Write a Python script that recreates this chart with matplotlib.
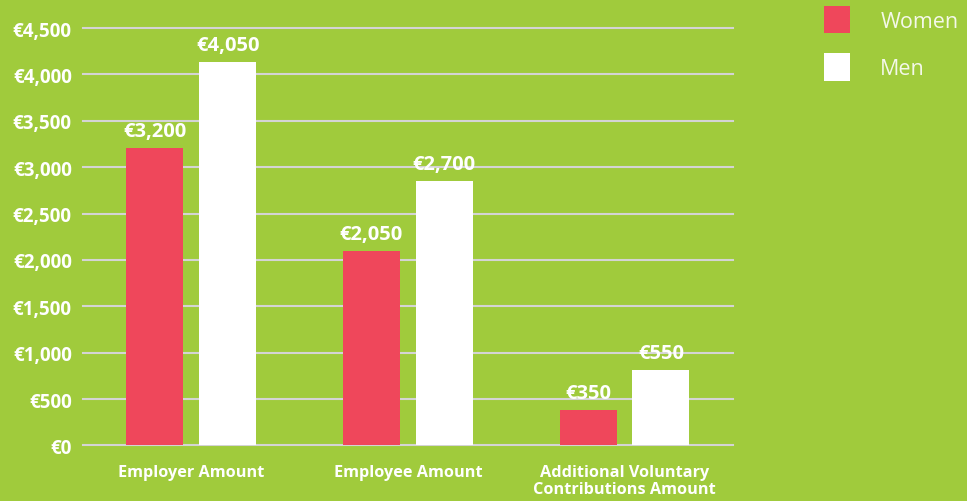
import matplotlib.pyplot as plt
import numpy as np

categories = ["Employer Amount", "Employee Amount", "Additional Voluntary\nContributions Amount"]
women = [3210, 2095, 380]
men = [4135, 2850, 815]
women_labels = ["€3,200", "€2,050", "€350"]
men_labels = ["€4,050", "€2,700", "€550"]
yticks = [0, 500, 1000, 1500, 2000, 2500, 3000, 3500, 4000, 4500]

bg = "#a0cb3c"
red = "#ef475b"
white = "#ffffff"

plt.rcParams['font.family'] = ['Open Sans', 'DejaVu Sans']

fig = plt.figure(figsize=(9.67, 5.02), dpi=100, facecolor=bg)
ax = fig.add_axes([0.0858, 0.1106, 0.672, 0.8316])
ax.set_facecolor(bg)

x = np.arange(len(categories))
w = 0.263
off = 0.168
b1 = ax.bar(x - off, women, w, color=red, label="Women", zorder=3)
b2 = ax.bar(x + off, men, w, color=white, label="Men", zorder=3)

for bars, labs in [(b1, women_labels), (b2, men_labels)]:
    for b, t in zip(bars, labs):
        ax.annotate(t, (b.get_x() + b.get_width() / 2, b.get_height()),
                    xytext=(0, 5), textcoords="offset points", ha="center", va="bottom",
                    color="white", fontsize=14.5, fontweight="bold", zorder=4)

ax.set_xlim(-0.5, 2.5)
ax.set_ylim(0, 4500)
ax.set_yticks(yticks)
ax.set_yticklabels(["€{:,}".format(v) for v in yticks])
ax.set_xticks(x)
ax.set_xticklabels(categories, linespacing=1.1)
ax.tick_params(axis="y", length=0, pad=8, labelsize=13.5, labelcolor="white")
ax.tick_params(axis="x", length=0, pad=13, labelsize=11.7, labelcolor="white")
for lab in ax.get_yticklabels() + ax.get_xticklabels():
    lab.set_fontweight("bold")

ax.grid(axis="y", color="#d4d4d4", linewidth=1.5, zorder=1)
for g in ax.get_ygridlines():
    g.set_clip_on(False)
for s in ax.spines.values():
    s.set_visible(False)

leg = fig.legend(handles=[b1, b2], loc="upper left", bbox_to_anchor=(0.852, 0.986),
                 frameon=False, fontsize=15.5, handlelength=1.22, handleheight=1.58,
                 handletextpad=1.4, labelspacing=0.92, borderpad=0, borderaxespad=0)
for t in leg.get_texts():
    t.set_color("#f4f8ea")

fig.savefig("out.png", dpi=100, facecolor=bg)
